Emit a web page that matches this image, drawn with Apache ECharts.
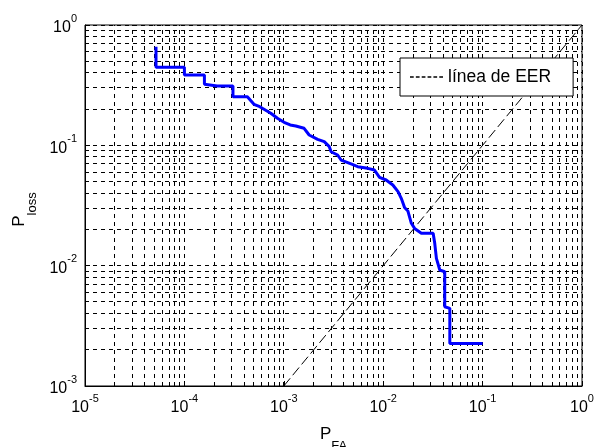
<!DOCTYPE html>
<html><head><meta charset="utf-8">
<script src="https://cdn.jsdelivr.net/npm/echarts@6/dist/echarts.min.js"></script>
<style>html,body{margin:0;padding:0;background:#fff}#c{width:597px;height:447px}</style>
</head><body><div id="c"></div>
<script>
// DET curve (P_FA, P_loss)
const pFA = [5.18e-5, 5.18e-5, 1.0e-4, 1.0e-4, 1.59e-4, 1.59e-4, 2.14e-4, 3.08e-4, 3.08e-4, 4.30e-4,
  5.01e-4, 5.73e-4, 7.40e-4, 8.63e-4, 1.007e-3, 1.16e-3, 1.32e-3, 1.60e-3, 1.80e-3, 2.19e-3,
  2.55e-3, 2.87e-3, 2.99e-3, 3.48e-3, 3.77e-3, 4.75e-3, 5.54e-3, 7.0e-3, 8.16e-3, 9.18e-3,
  1.07e-2, 1.25e-2, 1.41e-2, 1.52e-2, 1.64e-2, 1.77e-2, 1.92e-2, 2.07e-2, 2.42e-2, 3.18e-2,
  3.30e-2, 3.43e-2, 3.71e-2, 4.16e-2, 4.16e-2, 4.68e-2, 4.68e-2, 0.1];
const pLoss = [0.660, 0.445, 0.445, 0.384, 0.384, 0.3214, 0.311, 0.311, 0.2536, 0.2536,
  0.2193, 0.2094, 0.1846, 0.1678, 0.1553, 0.1476, 0.1448, 0.1385, 0.1218, 0.1122,
  0.1072, 0.0975, 0.0885, 0.0831, 0.0755, 0.0700, 0.0665, 0.0644, 0.0624, 0.0542,
  0.0515, 0.0468, 0.0412, 0.0363, 0.0304, 0.0285, 0.0225, 0.0204, 0.0186, 0.0186,
  0.01534, 0.01151, 0.0092, 0.0089, 0.00456, 0.00442, 0.00226, 0.00226];
// EER line (P_FA = P_loss)
const eerX = [1e-3, 1];
const eerY = [1e-3, 1];
const eerName = 'línea de EER';
// axis decades
const xDecades = [-5, -4, -3, -2, -1, 0];
const yDecades = [-3, -2, -1, 0];
const gridMult = [1, 2, 3, 4, 5, 6, 7, 8, 9];

function gridValues(decs) {
  const out = [];
  for (let i = 0; i < decs.length - 1; i++) {
    for (const m of gridMult) out.push(m * Math.pow(10, decs[i]));
  }
  out.push(Math.pow(10, decs[decs.length - 1]));
  return out;
}
const xMin = Math.pow(10, xDecades[0]), xMax = Math.pow(10, xDecades[xDecades.length - 1]);
const yMin = Math.pow(10, yDecades[0]), yMax = Math.pow(10, yDecades[yDecades.length - 1]);
const xGrid = gridValues(xDecades);
const yGrid = gridValues(yDecades);

const FONT = 'Liberation Sans, Arial, sans-serif';
const labelRich = {
  b: { fontSize: 16, lineHeight: 30, fontFamily: FONT, color: '#000' },
  e: { fontSize: 11, lineHeight: 11, verticalAlign: 'top', fontFamily: FONT, color: '#000' }
};
const fmt = v => '{b|10}{e|' + Math.round(Math.log10(v)) + '}';
const snap = c => Math.round(c - 0.5) + 0.5;

function gridRender(vertical) {
  return function (params, api) {
    const a = api.coord([api.value(0), api.value(1)]);
    const b = vertical ? api.coord([api.value(0), yMax]) : api.coord([xMax, api.value(1)]);
    const x1 = vertical ? snap(a[0]) : a[0], x2 = vertical ? snap(b[0]) : b[0];
    const y1 = vertical ? a[1] : snap(a[1]), y2 = vertical ? b[1] : snap(b[1]);
    return { type: 'line', shape: { x1, y1, x2, y2 },
      style: { stroke: '#000', lineWidth: 1, lineDash: [4, 4] }, silent: true };
  };
}

const chart = echarts.init(document.getElementById('c'), null, { renderer: 'canvas' });
chart.setOption({
  animation: false,
  backgroundColor: '#fff',
  grid: { left: 85, right: 15, top: 25, bottom: 61, containLabel: false, outerBoundsMode: 'none',
    show: true, borderColor: '#000', borderWidth: 1, backgroundColor: 'transparent' },
  legend: {
    data: [{ name: eerName, icon: 'path://M0,0h3.5v1.2h-3.5z M5.5,0h3.5v1.2h-3.5z M11,0h3.5v1.2h-3.5z M16.5,0h3.5v1.2h-3.5z M22,0h3.5v1.2h-3.5z M27.5,0h3.5v1.2h-3.5z' }],
    left: 400, top: 58,
    padding: [10, 22, 10, 10],
    backgroundColor: '#fff', borderColor: '#000', borderWidth: 1, borderRadius: 0,
    itemWidth: 33, itemHeight: 14, itemGap: 5,
    itemStyle: { color: '#000' },
    textStyle: { fontSize: 17.5, fontFamily: FONT, color: '#000' }
  },
  xAxis: {
    type: 'log', logBase: 10, min: xMin, max: xMax, interval: 1,
    name: '{p|P}{s|FA}', nameLocation: 'middle', nameGap: 37,
    nameTextStyle: { rich: {
      p: { fontSize: 17, fontFamily: FONT, color: '#000', lineHeight: 22 },
      s: { fontSize: 13, fontFamily: FONT, color: '#000', verticalAlign: 'bottom', lineHeight: 13, padding: [0, 0, -8, 0] } } },
    axisLine: { show: true, lineStyle: { color: '#000', width: 1 } },
    axisTick: { show: true, inside: true, length: 5, lineStyle: { color: '#000' } },
    axisLabel: { formatter: fmt, rich: labelRich, margin: 7 },
    splitLine: { show: false }
  },
  yAxis: {
    type: 'log', logBase: 10, min: yMin, max: yMax, interval: 1,
    name: '{p|P}{s|loss}', nameLocation: 'middle', nameGap: 50,
    nameTextStyle: { padding: [0, 8, 0, 0], rich: {
      p: { fontSize: 17, fontFamily: FONT, color: '#000', lineHeight: 22 },
      s: { fontSize: 13, fontFamily: FONT, color: '#000', verticalAlign: 'bottom', lineHeight: 13, padding: [0, 0, -8, 0] } } },
    axisLine: { show: true, lineStyle: { color: '#000', width: 1 } },
    axisTick: { show: true, inside: true, length: 5, lineStyle: { color: '#000' } },
    axisLabel: { formatter: fmt, rich: labelRich, margin: 8, padding: [6, 0, 0, 0] },
    splitLine: { show: false }
  },
  series: [
    {
      name: 'vgrid', type: 'custom', z: 1, silent: true,
      data: xGrid.map(v => [v, yMin]), encode: { x: 0, y: 1 },
      renderItem: gridRender(true), clip: false
    },
    {
      name: 'hgrid', type: 'custom', z: 1, silent: true,
      data: yGrid.map(v => [xMin, v]), encode: { x: 0, y: 1 },
      renderItem: gridRender(false), clip: false
    },
    {
      name: eerName, type: 'line', z: 2,
      data: eerX.map((x, i) => [x, eerY[i]]),
      showSymbol: false, symbol: 'none',
      lineStyle: { color: '#000', width: 1, type: [10, 4] },
      itemStyle: { color: '#000' }
    },
    {
      name: 'det', type: 'line', z: 3,
      data: pFA.map((x, i) => [x, pLoss[i]]),
      showSymbol: false, symbol: 'none',
      lineStyle: { color: '#0000ff', width: 3 },
      itemStyle: { color: '#0000ff' }
    }
  ]
});
</script>
</body></html>
